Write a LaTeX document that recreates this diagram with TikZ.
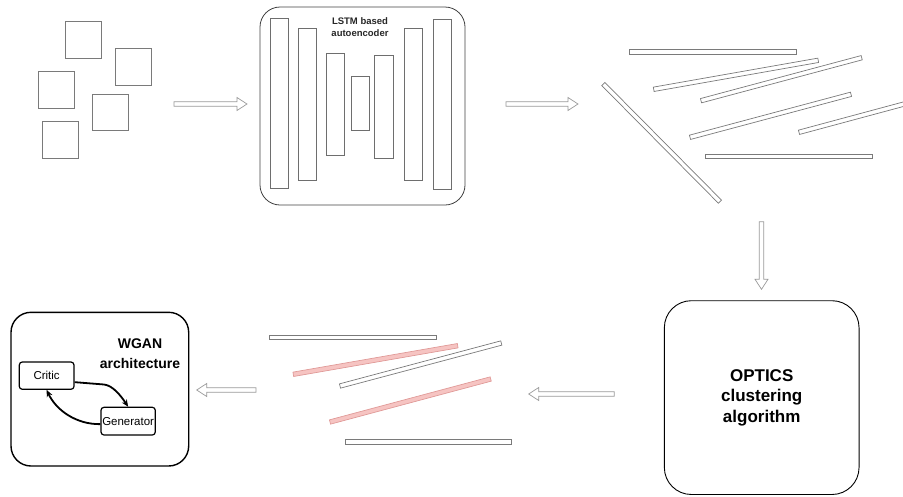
\documentclass[tikz,border=0pt]{standalone}
\usepackage{fontspec}
\setmainfont{Liberation Sans}
\usetikzlibrary{calc,arrows.meta}
\definecolor{sqgray}{HTML}{7A7A7A}
\definecolor{bargray}{HTML}{6E6E6E}
\definecolor{arrgray}{HTML}{9A9A9A}
\definecolor{pinkfill}{HTML}{F6C4C2}
\definecolor{pinkdraw}{HTML}{E09A98}
\tikzset{
  sq/.style={draw=sqgray, line width=0.7pt, minimum width=36pt, minimum height=36.5pt, inner sep=0pt},
  layerbar/.style={draw=bargray, line width=0.7pt, minimum width=18.4pt, inner sep=0pt},
  bigbox/.style={draw=black, line width=0.9pt, rounded corners=27pt, inner sep=0pt},
  lstmbox/.style={draw=black!75, line width=0.8pt, rounded corners=20pt, inner sep=0pt},
  wganbox/.style={draw=black, line width=1.4pt, rounded corners=20pt, inner sep=0pt},
  smallbox/.style={draw=black, line width=1.2pt, rounded corners=3pt, inner sep=0pt, font=\fontsize{11.5}{13}\selectfont},
  hollowarrow/.style={draw=arrgray, fill=white, line width=0.7pt, line join=miter},
  plainslab/.style={draw=sqgray, fill=white, line width=0.7pt},
  pinkslab/.style={draw=pinkdraw, fill=pinkfill, line width=0.7pt},
  loop/.style={draw=black, line width=1.8pt, -{Stealth[length=7pt,width=6pt]}}
}
% hollow block arrow from #1 to #2
\newcommand{\blockarrow}[2]{%
  \coordinate (hb) at ($(#2)!10pt!(#1)$);
  \draw[hollowarrow] ($(#1)!2.2pt!90:(#2)$) -- ($(hb)!2.2pt!90:(#2)$)
    -- ($(hb)!6.5pt!90:(#2)$) -- (#2) -- ($(hb)!6.5pt!-90:(#2)$)
    -- ($(hb)!2.2pt!-90:(#2)$) -- ($(#1)!2.2pt!-90:(#2)$) -- cycle;}
% thin slab between #2 and #3, style #1
\newcommand{\slab}[3]{%
  \draw[#1] ($(#2)!2.2pt!90:(#3)$) -- ($(#3)!2.2pt!-90:(#2)$)
    -- ($(#3)!2.2pt!90:(#2)$) -- ($(#2)!2.2pt!-90:(#3)$) -- cycle;}
\begin{document}
\begin{tikzpicture}[x=1pt,y=-1pt]
\useasboundingbox (0,0) rectangle (903,496);

% input squares
\node[sq] (s1) at (83,39.7) {};
\node[sq] (s2) at (133,67) {};
\node[sq] (s3) at (56,89.7) {};
\node[sq] (s4) at (110.3,112.3) {};
\node[sq] (s5) at (60.3,139.7) {};

% LSTM autoencoder
\node[lstmbox, minimum width=205pt, minimum height=198pt] (lstm) at (362.5,106) {};
\node[layerbar, minimum height=170.4pt] (b1) at (279.5,103.5) {};
\node[layerbar, minimum height=152pt] (b2) at (307.5,104.3) {};
\node[layerbar, minimum height=102.3pt] (b3) at (335.5,104.2) {};
\node[layerbar, minimum height=54pt] (b4) at (360.5,103.3) {};
\node[layerbar, minimum height=102.7pt] (b5) at (384,106.7) {};
\node[layerbar, minimum height=152pt] (b6) at (413.5,104.3) {};
\node[layerbar, minimum height=170.3pt] (b7) at (442.5,104.2) {};
\node[align=center, font=\fontsize{9.5}{11.5}\selectfont\bfseries, text=black!85] (lstmlabel) at (360,27) {LSTM based\\autoencoder};

% arrows top row
\coordinate (a1s) at (174,104); \coordinate (a1e) at (247,104);
\blockarrow{a1s}{a1e}
\coordinate (a2s) at (506,104); \coordinate (a2e) at (578,104);
\blockarrow{a2s}{a2e}

% embedding lines (top right)
\coordinate (t1a) at (629.5,52); \coordinate (t1b) at (796.5,52);
\coordinate (t2a) at (653.7,89.3); \coordinate (t2b) at (818.2,60.3);
\coordinate (t3a) at (701,100.7); \coordinate (t3b) at (861.7,57.7);
\coordinate (t4a) at (690,137.3); \coordinate (t4b) at (851,94.3);
\coordinate (t5a) at (799,132.3); \coordinate (t5b) at (906,103.5);
\coordinate (t6a) at (705.5,156.5); \coordinate (t6b) at (872.5,156.5);
\coordinate (t7a) at (603.3,84); \coordinate (t7b) at (720,201.7);
\slab{plainslab}{t1a}{t1b}
\slab{plainslab}{t2a}{t2b}
\slab{plainslab}{t3a}{t3b}
\slab{plainslab}{t4a}{t4b}
\slab{plainslab}{t5a}{t5b}
\slab{plainslab}{t6a}{t6b}
\slab{plainslab}{t7a}{t7b}

% down arrow
\coordinate (a3s) at (761.5,221.7); \coordinate (a3e) at (761.5,289.3);
\blockarrow{a3s}{a3e}

% OPTICS box
\node[bigbox, minimum width=194.7pt, minimum height=193.8pt, align=center,
      font=\fontsize{17}{20.5}\selectfont\bfseries] (optics) at (761.7,397.6)
      {OPTICS\\clustering\\algorithm};

% arrow to clustered lines
\coordinate (a4s) at (614.3,394); \coordinate (a4e) at (528.7,394);
\blockarrow{a4s}{a4e}

% clustered lines (bottom middle)
\coordinate (m1a) at (269.5,337.5); \coordinate (m1b) at (436.5,337.5);
\coordinate (m2a) at (293.3,374.3); \coordinate (m2b) at (457.7,345.7);
\coordinate (m3a) at (340,386); \coordinate (m3b) at (501.3,343);
\coordinate (m4a) at (330,422); \coordinate (m4b) at (490.7,379);
\coordinate (m5a) at (345.3,441.7); \coordinate (m5b) at (511.7,441.7);
\slab{plainslab}{m1a}{m1b}
\slab{pinkslab}{m2a}{m2b}
\slab{plainslab}{m3a}{m3b}
\slab{pinkslab}{m4a}{m4b}
\slab{plainslab}{m5a}{m5b}

% arrow to WGAN
\coordinate (a5s) at (256,390); \coordinate (a5e) at (196.7,390);
\blockarrow{a5s}{a5e}

% WGAN box
\node[wganbox, minimum width=177.7pt, minimum height=153.7pt] (wgan) at (99.85,389.15) {};
\node[align=center, font=\fontsize{14}{20}\selectfont\bfseries] (wganlabel) at (140,353.5) {WGAN\\architecture};
\node[smallbox, minimum width=54.7pt, minimum height=27.3pt] (critic) at (46.65,375.65) {Critic};
\node[smallbox, minimum width=54.3pt, minimum height=27.7pt] (gen) at (128.15,421.15) {Generator};
\draw[loop] ([yshift=-6.5pt]critic.east) -- (104,384.5) .. controls (113,385.5) and (121,396) .. (gen.north);
\draw[loop] ([yshift=-3pt]gen.west) .. controls (76,424.5) and (56,410) .. (critic.south);
\end{tikzpicture}
\end{document}
